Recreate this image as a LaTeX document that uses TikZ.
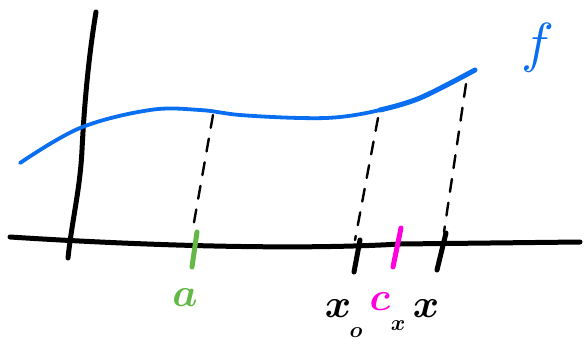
\documentclass[tikz,border=0pt]{standalone}
\usepackage{graphicx}
\usepackage{bm}
\definecolor{fblue}{RGB}{10,110,240}
\definecolor{agreen}{RGB}{100,185,70}
\definecolor{cmag}{RGB}{255,0,220}
\newcommand{\biglab}[1]{\scalebox{4}{$\bm{#1}$}}
\newcommand{\smalllab}[1]{\scalebox{2.2}{$\bm{#1}$}}
\begin{document}
\begin{tikzpicture}[x=1pt,y=-1pt,line cap=round,
  axis/.style={line width=5pt,black},
  tick/.style={line width=5pt},
  guide/.style={line width=2.4pt,dash pattern=on 13pt off 11pt},
  lab/.style={inner sep=0pt}]
\useasboundingbox (0,0) rectangle (584,343);
% axes
\draw[axis] (96,12) .. controls (88,60) and (84,110) .. (82,150) .. controls (80,190) and (72,220) .. (68,258);
\draw[axis] (10,237) .. controls (150,246) and (300,250) .. (400,244) -- (580,242);
% function f
\draw[fblue,line width=3.8pt] plot[smooth,tension=0.6] coordinates {(20,163) (80,128) (150,110) (200,110) (240,115) (300,118) (340,117) (380,110) (420,98) (475,70)};
\draw[fblue,line width=5pt] plot[smooth,tension=0.6] coordinates {(380,110) (420,98) (475,70)};
\node[lab,text=fblue] (f) at (538,48) {\scalebox{5.5}{$f$}};
% coordinates on curve
\coordinate (pa) at (213,115);
\coordinate (px0) at (378,118);
\coordinate (px) at (466,84);
\coordinate (qa) at (193,228);
\coordinate (qx0) at (355,240);
\coordinate (qx) at (444,232);
\draw[guide] (pa) -- (qa);
\draw[guide] (px0) -- (qx0);
\draw[guide] (px) -- (qx);
% ticks
\coordinate (ta1) at (197,232); \coordinate (ta2) at (192,267);
\coordinate (t01) at (360,240); \coordinate (t02) at (354,272);
\coordinate (tc1) at (401,228); \coordinate (tc2) at (393,267);
\coordinate (tx1) at (446,233); \coordinate (tx2) at (437,270);
\draw[tick,agreen] (ta1) -- (ta2);
\draw[tick,black] (t01) -- (t02);
\draw[tick,cmag] (tc1) -- (tc2);
\draw[tick,black] (tx1) -- (tx2);
% labels
\node[lab,text=agreen] (la) at (185,298) {\biglab{a}};
\node[lab] (lx0) at (338,309) {\biglab{x}};
\node[lab] (lx0s) at (356,333) {\smalllab{o}};
\node[lab,text=cmag] (lc) at (380,302) {\biglab{c}};
\node[lab] (lcs) at (398,326) {\smalllab{x}};
\node[lab] (lx) at (426,309) {\biglab{x}};
\end{tikzpicture}
\end{document}
